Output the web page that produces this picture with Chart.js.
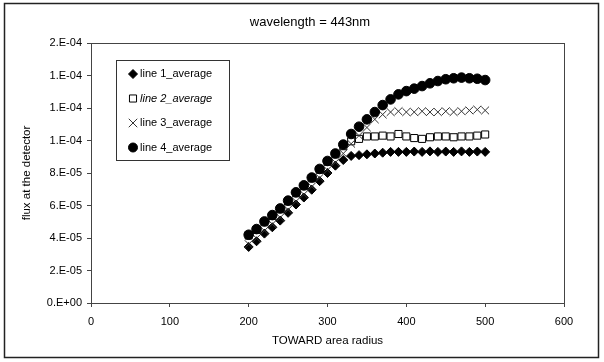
<!DOCTYPE html>
<html>
<head>
<meta charset="utf-8">
<script src="https://cdn.jsdelivr.net/npm/chart.js@4"></script>
<style>
  html, body { margin: 0; padding: 0; background: #fff; }
  #wrap { width: 604px; height: 362px; }
</style>
</head>
<body>
<div id="wrap"><canvas id="grafico" width="604" height="362"></canvas></div>
<script>
const raio = [200, 210, 220, 230, 240, 250, 260, 270, 280, 290, 300, 310, 320, 330, 340, 350,
    360, 370, 380, 390, 400, 410, 420, 430, 440, 450, 460, 470, 480, 490, 500];

// valores em unidades de 1e-5
const linha1 = [3.45, 3.8, 4.27, 4.66, 5.07, 5.55, 6.06, 6.49, 6.97, 7.5, 8.0, 8.45, 8.8, 9.05, 9.1, 9.15,
    9.2, 9.25, 9.3, 9.3, 9.3, 9.32, 9.3, 9.33, 9.3, 9.32, 9.3, 9.33, 9.3, 9.32, 9.3];
const linha2 = [4.15, 4.5, 4.97, 5.36, 5.77, 6.25, 6.76, 7.19, 7.67, 8.2, 8.69, 9.15, 9.65, 9.95, 10.1, 10.25,
    10.25, 10.3, 10.25, 10.4, 10.25, 10.15, 10.1, 10.2, 10.25, 10.25, 10.2, 10.25, 10.25, 10.3, 10.37];
const linha3 = [3.62, 3.98, 4.45, 4.85, 5.26, 5.74, 6.25, 6.68, 7.16, 7.7, 8.18, 8.65, 9.2, 9.8, 10.3, 10.8,
    11.3, 11.6, 11.75, 11.8, 11.75, 11.75, 11.8, 11.75, 11.75, 11.8, 11.75, 11.8, 11.85, 11.9, 11.85];
const linha4 = [4.2, 4.55, 5.02, 5.41, 5.82, 6.3, 6.81, 7.24, 7.72, 8.25, 8.74, 9.2, 9.75, 10.4, 10.85, 11.3,
    11.75, 12.18, 12.53, 12.84, 13.04, 13.19, 13.35, 13.52, 13.66, 13.77, 13.83, 13.87, 13.83, 13.8, 13.72];

const nomes = ['line 1_average', 'line 2_average', 'line 3_average', 'line 4_average'];
const xTicks = [0, 100, 200, 300, 400, 500, 600];
const yTicks = [0, 2e-5, 4e-5, 6e-5, 8e-5, 1e-4, 1.2e-4, 1.4e-4, 1.6e-4];
const titulo = 'wavelength = 443nm';

const fonte = 'Liberation Sans, Arial, sans-serif';
const pontos = serie => raio.map((r, i) => ({ x: r, y: serie[i] * 1e-5 }));

// formato do Excel: 1.E-04
function excelExp(v) {
    if (Math.abs(v) < 1e-12) return '0.E+00';
    const [m, e] = v.toExponential(0).split('e');
    const n = parseInt(e, 10);
    return m + '.E' + (n < 0 ? '-' : '+') + String(Math.abs(n)).padStart(2, '0');
}

const moldura = {
    id: 'moldura',
    beforeDraw(chart) {
        const { ctx, chartArea: a } = chart;
        ctx.save();
        ctx.fillStyle = '#fff';
        ctx.fillRect(0, 0, chart.width, chart.height);
        ctx.strokeStyle = '#222';
        ctx.lineWidth = 1.5;
        ctx.strokeRect(4.5, 3.5, 594, 354);
        ctx.lineWidth = 1;
        ctx.strokeStyle = '#444';
        ctx.strokeRect(Math.round(a.left) + 0.5, Math.round(a.top) + 0.5, a.right - a.left, a.bottom - a.top);
        ctx.fillStyle = '#000';
        ctx.font = '13px ' + fonte;
        ctx.textAlign = 'center';
        ctx.textBaseline = 'middle';
        ctx.fillText(titulo, 310, 22);
        ctx.restore();
    }
};

const legenda = {
    id: 'legenda',
    afterDraw(chart) {
        const { ctx } = chart;
        ctx.save();
        ctx.strokeStyle = '#333';
        ctx.lineWidth = 1;
        ctx.strokeRect(116.5, 60.5, 113, 100);
        chart.data.datasets.forEach((ds, i) => {
            const y = 74 + i * 24.5;
            ctx.fillStyle = ds.pointBackgroundColor;
            ctx.strokeStyle = ds.pointBorderColor;
            ctx.lineWidth = ds.pointBorderWidth;
            Chart.helpers.drawPoint(ctx, {
                pointStyle: ds.pointStyle,
                radius: ds.legendRadius,
                rotation: 0,
                borderWidth: ds.pointBorderWidth
            }, 133, y);
            ctx.fillStyle = '#000';
            ctx.font = (i === 1 ? 'italic ' : '') + '11px ' + fonte;
            ctx.textBaseline = 'middle';
            ctx.textAlign = 'left';
            ctx.fillText(ds.label, 140, y);
        });
        ctx.restore();
    }
};

new Chart(document.getElementById('grafico'), {
    type: 'scatter',
    data: {
        datasets: [
            {
                label: nomes[0], data: pontos(linha1), order: 4,
                pointStyle: 'rectRot', pointRadius: 4.5, legendRadius: 4.5,
                pointBackgroundColor: '#000', pointBorderColor: '#000', pointBorderWidth: 1
            },
            {
                label: nomes[1], data: pontos(linha2), order: 3,
                pointStyle: 'rect', pointRadius: 5, legendRadius: 5,
                pointBackgroundColor: '#fff', pointBorderColor: '#000', pointBorderWidth: 1
            },
            {
                label: nomes[2], data: pontos(linha3), order: 2,
                pointStyle: 'crossRot', pointRadius: 5.5, legendRadius: 6,
                pointBackgroundColor: '#000', pointBorderColor: '#333', pointBorderWidth: 1
            },
            {
                label: nomes[3], data: pontos(linha4), order: 1,
                pointStyle: 'circle', pointRadius: 4.8, legendRadius: 4.5,
                pointBackgroundColor: '#000', pointBorderColor: '#000', pointBorderWidth: 1
            }
        ]
    },
    options: {
        responsive: false,
        animation: false,
        devicePixelRatio: 1,
        layout: { padding: { left: 0, right: 40, top: 43, bottom: 0 } },
        plugins: {
            legend: { display: false },
            tooltip: { enabled: false },
            title: { display: false }
        },
        scales: {
            x: {
                type: 'linear', min: 0, max: 600,
                afterBuildTicks: s => { s.ticks = xTicks.map(v => ({ value: v })); },
                afterFit: s => { s.height = 59; },
                grid: { display: true, drawOnChartArea: false, tickLength: 4, color: '#444' },
                border: { display: false },
                ticks: { color: '#000', font: { family: fonte, size: 11 }, padding: 8, maxRotation: 0 },
                title: {
                    display: true, text: 'TOWARD area radius', color: '#000',
                    font: { family: fonte, size: 11.5 }, padding: { top: 0, bottom: 14 }
                }
            },
            y: {
                type: 'linear', min: 0, max: 1.6e-4,
                afterBuildTicks: s => { s.ticks = yTicks.map(v => ({ value: v })); },
                afterFit: s => { s.width = 91; },
                grid: { display: true, drawOnChartArea: false, tickLength: 4, color: '#444' },
                border: { display: false },
                ticks: {
                    color: '#000', font: { family: fonte, size: 11 }, padding: 5,
                    callback: v => excelExp(v)
                },
                title: {
                    display: true, text: 'flux at the detector', color: '#000',
                    font: { family: fonte, size: 11.5 }, padding: { top: 20, bottom: 0 }
                }
            }
        }
    },
    plugins: [moldura, legenda]
});
</script>
</body>
</html>
